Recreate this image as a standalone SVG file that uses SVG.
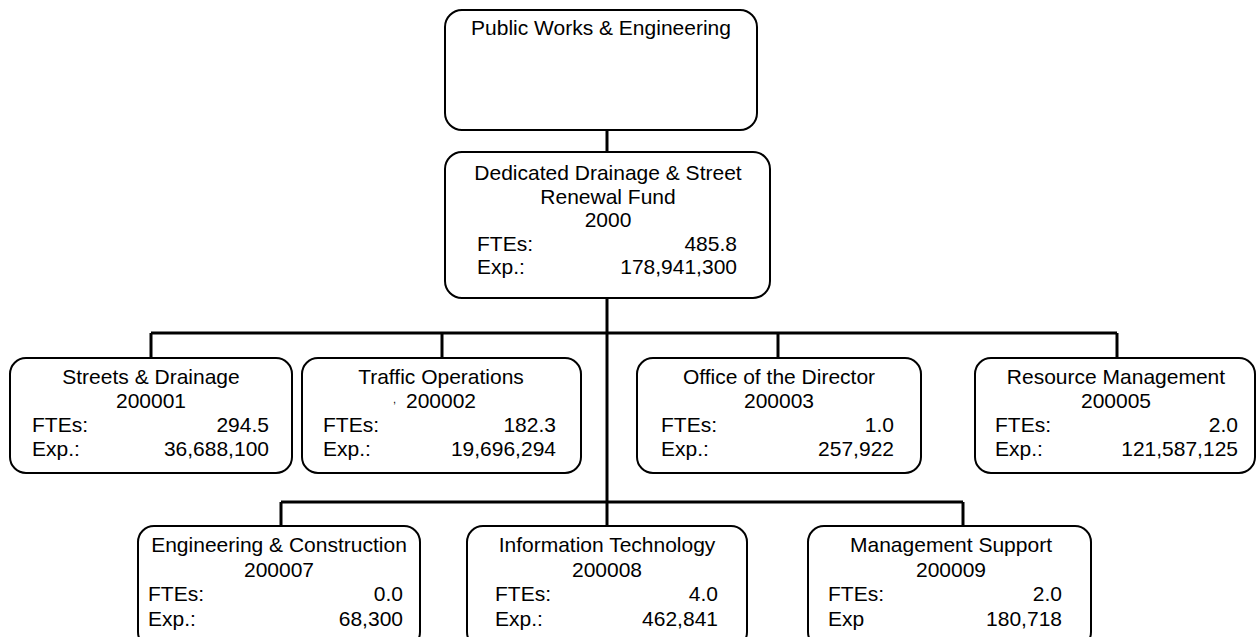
<svg xmlns="http://www.w3.org/2000/svg" width="1257" height="637" viewBox="0 0 1257 637">
<style>
.box{fill:#fff;stroke:#000;stroke-width:2}
.con{stroke:#000;stroke-width:3;fill:none}
text{font-family:"Liberation Sans",Arial,sans-serif;font-size:21px;fill:#000}
.c{text-anchor:middle}
.r{text-anchor:end}
</style>
<rect width="1257" height="637" fill="#fff"/>
<g id="connectors">
<line class="con" x1="607" y1="130" x2="607" y2="152"/>
<line class="con" x1="607" y1="298" x2="607" y2="526"/>
<line class="con" x1="151" y1="333" x2="1117" y2="333"/>
<line class="con" x1="151" y1="333" x2="151" y2="358"/>
<line class="con" x1="442" y1="333" x2="442" y2="358"/>
<line class="con" x1="778" y1="333" x2="778" y2="358"/>
<line class="con" x1="1117" y1="333" x2="1117" y2="358"/>
<line class="con" x1="281" y1="502" x2="963" y2="502"/>
<line class="con" x1="281" y1="502" x2="281" y2="526"/>
<line class="con" x1="963" y1="502" x2="963" y2="526"/>
</g>
<g id="n-public-works">
<rect class="box" x="445" y="10" width="312" height="120" rx="17"/>
<text class="c" x="601" y="35">Public Works &amp; Engineering</text>
</g>
<g id="n-2000">
<rect class="box" x="445" y="152" width="325" height="146" rx="17"/>
<text class="c" x="608" y="180">Dedicated Drainage &amp; Street</text>
<text class="c" x="608" y="204">Renewal Fund</text>
<text class="c" x="608" y="227">2000</text>
<text x="477" y="251">FTEs:</text><text class="r" x="737" y="251">485.8</text>
<text x="477" y="274">Exp.:</text><text class="r" x="737" y="274">178,941,300</text>
</g>
<g id="n-200001">
<rect class="box" x="10" y="358" width="282" height="115" rx="16"/>
<text class="c" x="151" y="384">Streets &amp; Drainage</text>
<text class="c" x="151" y="408">200001</text>
<text x="32" y="432">FTEs:</text><text class="r" x="269" y="432">294.5</text>
<text x="32" y="456">Exp.:</text><text class="r" x="269" y="456">36,688,100</text>
</g>
<g id="n-200002">
<rect class="box" x="302" y="358" width="279" height="115" rx="16"/>
<text class="c" x="441" y="384">Traffic Operations</text>
<text style="font-size:11px" x="393" y="403">,</text>
<text class="c" x="441" y="408">200002</text>
<text x="323" y="432">FTEs:</text><text class="r" x="556" y="432">182.3</text>
<text x="323" y="456">Exp.:</text><text class="r" x="556" y="456">19,696,294</text>
</g>
<g id="n-200003">
<rect class="box" x="637" y="358" width="284" height="115" rx="16"/>
<text class="c" x="779" y="384">Office of the Director</text>
<text class="c" x="779" y="408">200003</text>
<text x="661" y="432">FTEs:</text><text class="r" x="894" y="432">1.0</text>
<text x="661" y="456">Exp.:</text><text class="r" x="894" y="456">257,922</text>
</g>
<g id="n-200005">
<rect class="box" x="975" y="358" width="280" height="115" rx="16"/>
<text class="c" x="1116" y="384">Resource Management</text>
<text class="c" x="1116" y="408">200005</text>
<text x="995" y="432">FTEs:</text><text class="r" x="1238" y="432">2.0</text>
<text x="995" y="456">Exp.:</text><text class="r" x="1238" y="456">121,587,125</text>
</g>
<g id="n-200007">
<rect class="box" x="138" y="526" width="282" height="122" rx="16"/>
<text class="c" x="279" y="552">Engineering &amp; Construction</text>
<text class="c" x="279" y="577">200007</text>
<text x="148" y="601">FTEs:</text><text class="r" x="403" y="601">0.0</text>
<text x="148" y="626">Exp.:</text><text class="r" x="403" y="626">68,300</text>
</g>
<g id="n-200008">
<rect class="box" x="467" y="526" width="280" height="122" rx="16"/>
<text class="c" x="607" y="552">Information Technology</text>
<text class="c" x="607" y="577">200008</text>
<text x="495" y="601">FTEs:</text><text class="r" x="718" y="601">4.0</text>
<text x="495" y="626">Exp.:</text><text class="r" x="718" y="626">462,841</text>
</g>
<g id="n-200009">
<rect class="box" x="808" y="526" width="283" height="122" rx="16"/>
<text class="c" x="951" y="552">Management Support</text>
<text class="c" x="951" y="577">200009</text>
<text x="828" y="601">FTEs:</text><text class="r" x="1062" y="601">2.0</text>
<text x="828" y="626">Exp</text><text class="r" x="1062" y="626">180,718</text>
</g>
</svg>
